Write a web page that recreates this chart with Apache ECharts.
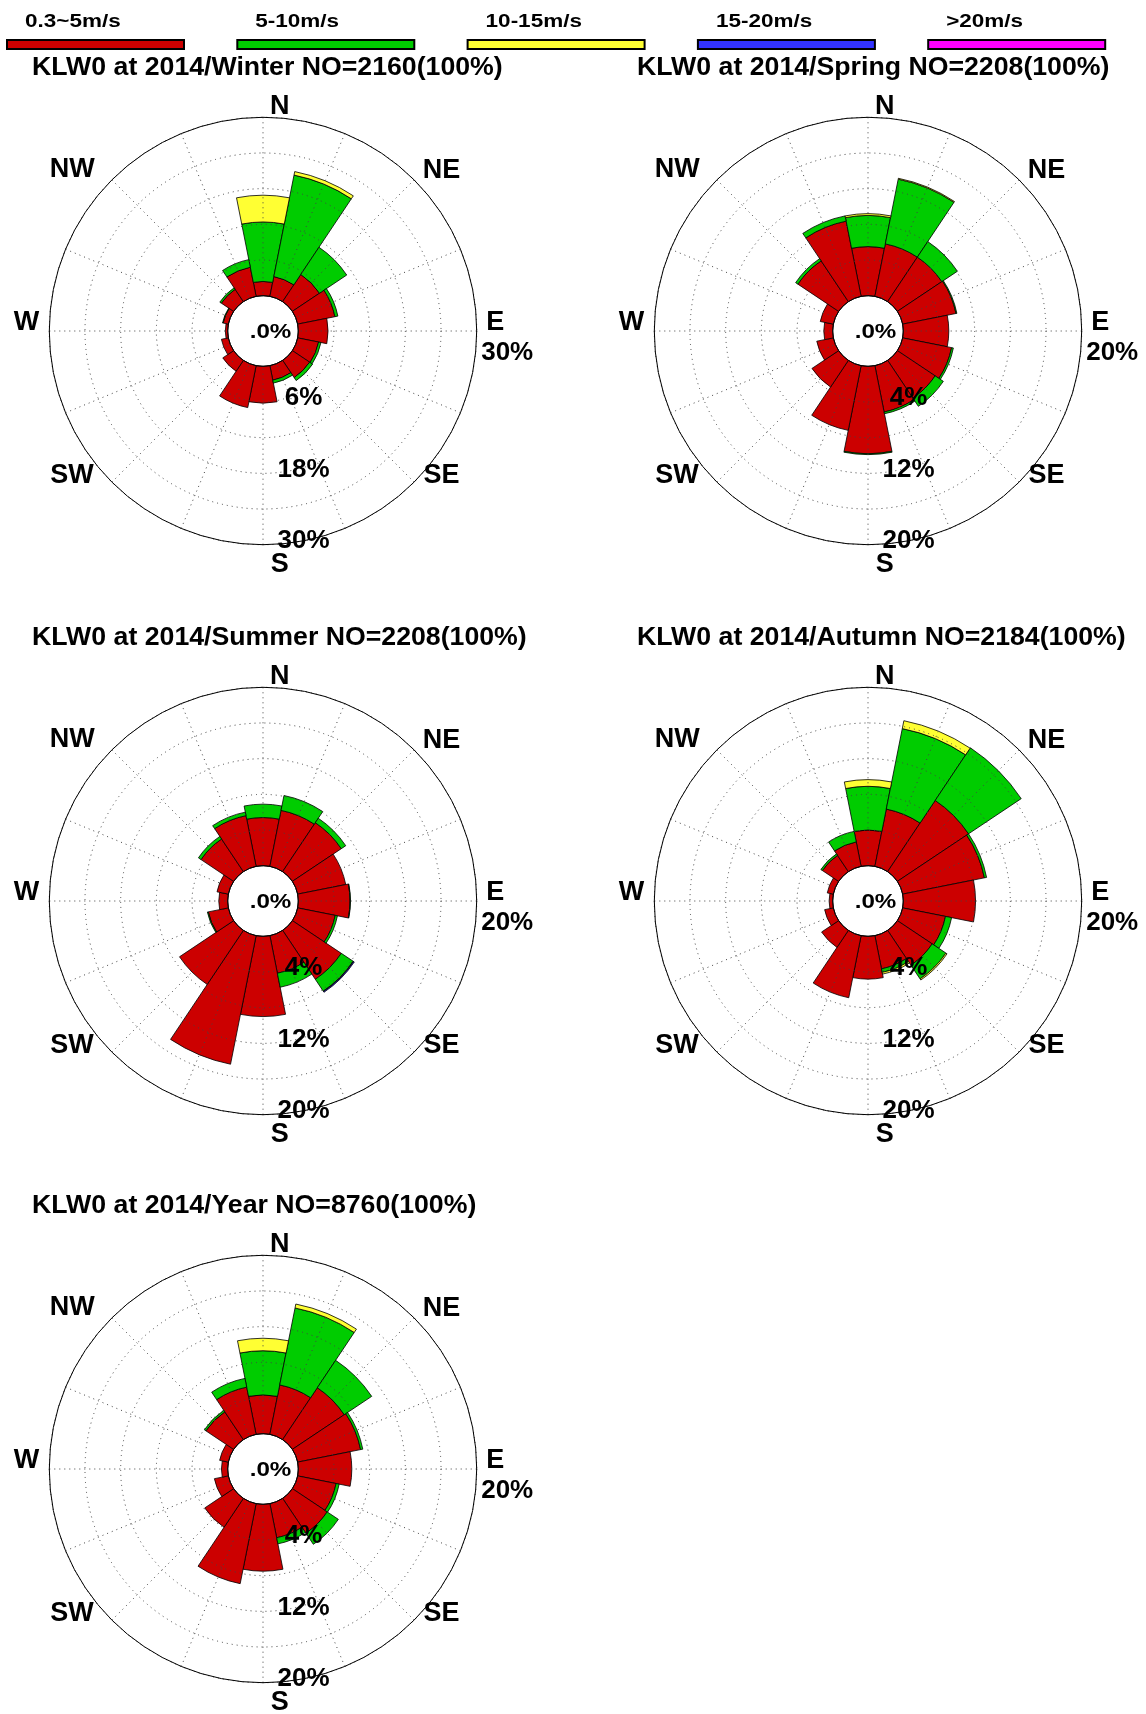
<!DOCTYPE html>
<html>
<head>
<meta charset="utf-8">
<script src="https://cdn.jsdelivr.net/npm/echarts@6/dist/echarts.min.js"></script>
<style>
html,body{margin:0;padding:0;background:#ffffff;}
#chart{width:1146px;height:1714px;}
</style>
</head>
<body>
<div id="chart"></div>
<script>
// ---------------- DATA ----------------
const directions = ['N','NNE','NE','ENE','E','ESE','SE','SSE','S','SSW','SW','WSW','W','WNW','NW','NNW'];
const speedBins = ['0.3~5m/s','5-10m/s','10-15m/s','15-20m/s','>20m/s'];
const compassLabels = ['N','NE','E','SE','S','SW','W','NW'];
const panelTitles = [
  'KLW0 at 2014/Winter NO=2160(100%)',
  'KLW0 at 2014/Spring NO=2208(100%)',
  'KLW0 at 2014/Summer NO=2208(100%)',
  'KLW0 at 2014/Autumn NO=2184(100%)',
  'KLW0 at 2014/Year NO=8760(100%)'
];
const calmLabels = ['.0%','.0%','.0%','.0%','.0%'];
const panelMax = [30, 20, 20, 20, 20];
const winterRingTicks = [6, 18, 30];
const seasonRingTicks = [4, 12, 20];

// percent frequency per direction, one array per speed class (segment values)
const winterBin1 = [2.4, 3.4, 5.5, 6.4, 5.0, 3.6, 3.5, 2.5, 6.2, 7.2, 2.2, 1.2, 0.4, 0.9, 2.5, 5.0];
const winterBin2 = [10.0, 17.4, 5.5, 0.5, 0, 0.4, 0.6, 0.5, 0, 0, 0, 0, 0, 0.1, 0.3, 1.3];
const winterBin3 = [4.5, 0.6, 0, 0, 0, 0, 0, 0, 0, 0, 0, 0, 0, 0, 0, 0];
const winterBin4 = [0, 0, 0, 0, 0, 0, 0, 0, 0, 0, 0, 0, 0, 0, 0, 0];
const winterBin5 = [0, 0, 0, 0, 0, 0, 0, 0, 0, 0, 0, 0, 0, 0, 0, 0];

const springBin1 = [5.5, 6.0, 6.0, 6.1, 5.1, 5.6, 5.1, 5.3, 9.8, 7.4, 3.6, 1.9, 1.0, 1.5, 5.5, 8.6];
const springBin2 = [3.5, 7.4, 2.1, 0.1, 0, 0.2, 1.1, 0.2, 0.1, 0, 0, 0, 0, 0, 0.3, 0.6];
const springBin3 = [0.2, 0.1, 0, 0, 0, 0, 0, 0, 0, 0, 0, 0, 0, 0, 0, 0];
const springBin4 = [0, 0, 0, 0, 0, 0, 0, 0, 0, 0, 0, 0, 0, 0, 0, 0];
const springBin5 = [0, 0, 0, 0, 0, 0, 0, 0, 0, 0, 0, 0, 0, 0, 0, 0];

const summerBin1 = [5.4, 6.4, 6.6, 5.5, 5.8, 4.3, 6.6, 4.3, 9.0, 14.7, 7.3, 2.3, 1.0, 1.3, 4.4, 5.8];
const summerBin2 = [1.5, 1.7, 0.6, 0, 0.05, 0.25, 1.6, 1.6, 0, 0, 0, 0.1, 0, 0, 0.35, 0.4];
const summerBin3 = [0, 0, 0, 0, 0, 0, 0.05, 0, 0, 0, 0, 0, 0, 0, 0, 0];
const summerBin4 = [0, 0, 0, 0, 0, 0, 0.1, 0, 0, 0, 0, 0, 0, 0, 0, 0];
const summerBin5 = [0, 0, 0, 0, 0, 0, 0, 0, 0, 0, 0, 0, 0, 0, 0, 0];

const autumnBin1 = [4.0, 6.55, 9.6, 9.35, 8.1, 4.9, 4.7, 3.8, 4.8, 7.1, 2.3, 1.0, 0.4, 0.7, 2.2, 2.8];
const autumnBin2 = [4.9, 9.2, 7.1, 0.25, 0, 0.7, 1.85, 0.4, 0, 0, 0, 0, 0, 0, 0.2, 1.2];
const autumnBin3 = [0.75, 0.9, 0, 0, 0, 0, 0.15, 0.2, 0, 0, 0, 0, 0, 0, 0, 0];
const autumnBin4 = [0, 0, 0, 0, 0, 0, 0, 0, 0, 0, 0, 0, 0, 0, 0, 0];
const autumnBin5 = [0, 0, 0, 0, 0, 0, 0, 0, 0, 0, 0, 0, 0, 0, 0, 0];

const yearBin1 = [4.35, 5.65, 7.0, 7.2, 6.0, 4.4, 4.7, 3.9, 7.5, 9.15, 3.9, 1.6, 0.7, 1.0, 3.75, 5.4];
const yearBin2 = [4.95, 8.8, 3.7, 0.25, 0, 0.35, 1.5, 0.7, 0, 0, 0, 0, 0, 0, 0.2, 1.0];
const yearBin3 = [1.4, 0.45, 0, 0, 0, 0, 0, 0, 0, 0, 0, 0, 0, 0, 0, 0];
const yearBin4 = [0, 0, 0, 0, 0, 0, 0, 0, 0, 0, 0, 0, 0, 0, 0, 0];
const yearBin5 = [0, 0, 0, 0, 0, 0, 0, 0, 0, 0, 0, 0, 0, 0, 0, 0];

// ---------------- STYLE / LAYOUT ----------------
const binColors = ['#CC0000', '#00CC00', '#FFFF33', '#3333FF', '#FF00FF'];
const FONT = '"Liberation Sans", Arial, Helvetica, sans-serif';
const panelCenters = [[263, 331], [868, 331], [263, 901], [868, 901], [263, 1469]];
const R_IN = 35.3, R_OUT = 213.7;
const compassOffsets = {
  N: [16.7, -224], NE: [178.4, -160.5], E: [232.2, -8], SE: [178.5, 145],
  S: [16.7, 234], SW: [-191, 145], W: [-236.6, -8], NW: [-190.8, -161]
};
const GRID_LINE = { color: '#444', width: 1, type: [1, 4] };

const panelBins = [
  [winterBin1, winterBin2, winterBin3, winterBin4, winterBin5],
  [springBin1, springBin2, springBin3, springBin4, springBin5],
  [summerBin1, summerBin2, summerBin3, summerBin4, summerBin5],
  [autumnBin1, autumnBin2, autumnBin3, autumnBin4, autumnBin5],
  [yearBin1, yearBin2, yearBin3, yearBin4, yearBin5]
];
const panelRingTicks = [winterRingTicks, seasonRingTicks, seasonRingTicks, seasonRingTicks, seasonRingTicks];

function txt(x, y, text, size, align, extra) {
  const base = {
    type: 'text', x: x, y: y, silent: true, z: 100,
    style: {
      text: text, font: 'bold ' + size + 'px ' + FONT, fill: '#000',
      align: align, verticalAlign: 'middle',
      textAlign: align, textVerticalAlign: 'middle'
    }
  };
  return Object.assign(base, extra || {});
}

const polar = [], angleAxis = [], radiusAxis = [], series = [], graphics = [];

panelCenters.forEach(function (c, i) {
  const cx = c[0], cy = c[1], M = panelMax[i];
  polar.push({ center: [cx, cy], radius: [R_IN, R_OUT] });
  polar.push({ center: [cx, cy], radius: [R_IN, R_OUT] });

  angleAxis.push({
    polarIndex: 2 * i, type: 'value', min: 0, max: 360, interval: 22.5,
    startAngle: 90, clockwise: true, z: 5,
    axisLine: { show: true, lineStyle: { color: '#000', width: 1 } },
    axisTick: { show: false }, axisLabel: { show: false },
    splitLine: { show: true, lineStyle: GRID_LINE }
  });
  angleAxis.push({
    polarIndex: 2 * i + 1, type: 'category', data: directions,
    startAngle: 90 + 360 / directions.length / 2, clockwise: true,
    axisLine: { show: false }, axisTick: { show: false },
    axisLabel: { show: false }, splitLine: { show: false }
  });
  radiusAxis.push({
    polarIndex: 2 * i, type: 'value', min: 0, max: M, interval: M / 5, z: 5,
    axisLine: { show: false }, axisTick: { show: false }, axisLabel: { show: false },
    splitLine: { show: true, showMinLine: false, lineStyle: GRID_LINE }
  });
  radiusAxis.push({
    polarIndex: 2 * i + 1, type: 'value', min: 0, max: M,
    axisLine: { show: false }, axisTick: { show: false }, axisLabel: { show: false },
    splitLine: { show: false }
  });

  panelBins[i].forEach(function (arr, j) {
    series.push({
      type: 'bar', coordinateSystem: 'polar', polarIndex: 2 * i + 1,
      name: speedBins[j], stack: 'rose' + i, barCategoryGap: '0%',
      data: arr.map(function (v) { return v > 0 ? v : null; }),
      itemStyle: { color: binColors[j], borderColor: '#000', borderWidth: 0.8 },
      silent: true, z: 2
    });
  });

  // title
  graphics.push(txt(cx - 231, cy - 263, panelTitles[i], 26.7, 'left'));
  // compass labels
  compassLabels.forEach(function (lab) {
    const o = compassOffsets[lab];
    graphics.push(txt(cx + o[0], cy + o[1], lab, 27, 'center'));
  });
  // max label next to E
  graphics.push(txt(cx + 244.2, cy + 22, M + '%', 26, 'center'));
  // calm label in the hole
  graphics.push(txt(cx + 7.5, cy + 1.5, calmLabels[i], 21, 'center', { scaleX: 1.15 }));
  // ring labels along S
  panelRingTicks[i].forEach(function (v) {
    const r = R_IN + (v / M) * (R_OUT - R_IN);
    graphics.push(txt(cx + 40.5, cy + r - 4, v + '%', 26, 'center'));
  });
});

// legend (top row)
speedBins.forEach(function (name, j) {
  const x0 = 7 + 230.3 * j;
  graphics.push({
    type: 'rect', silent: true, z: 100,
    shape: { x: x0, y: 40, width: 177, height: 9 },
    style: { fill: binColors[j], stroke: '#000', lineWidth: 2 }
  });
  graphics.push(txt(x0 + 18, 22.5, name, 18, 'left', { scaleX: 1.25 }));
});

const chart = echarts.init(document.getElementById('chart'), null, { renderer: 'canvas' });
chart.setOption({
  backgroundColor: '#ffffff',
  animation: false,
  polar: polar,
  angleAxis: angleAxis,
  radiusAxis: radiusAxis,
  series: series,
  graphic: { elements: graphics }
});
</script>
</body>
</html>
